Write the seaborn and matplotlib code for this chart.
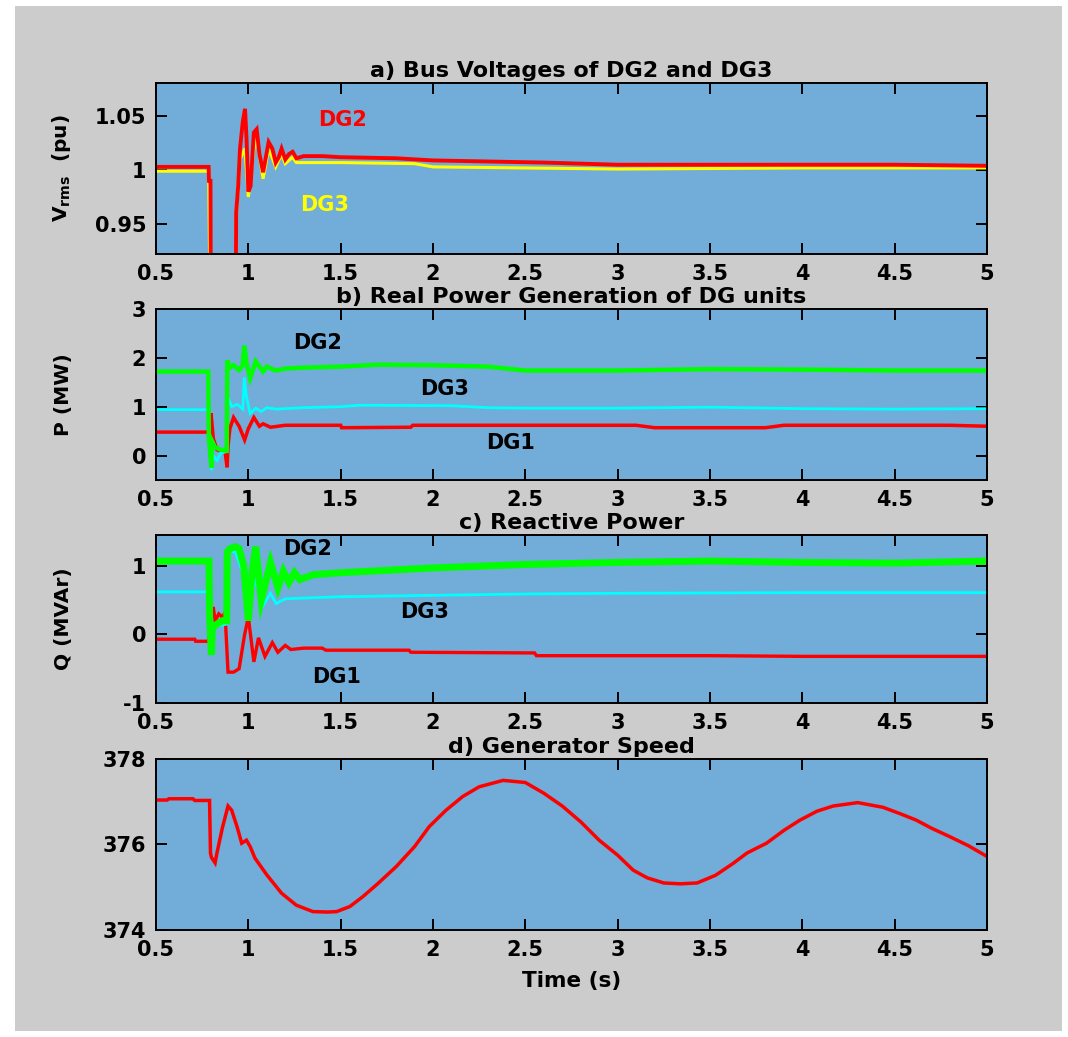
import matplotlib
matplotlib.use("Agg")
import matplotlib.pyplot as plt
from matplotlib.patches import Rectangle
import seaborn as sns
import pandas as pd

# ---------------- a) bus voltages (pu) ----------------
v_dg2_t = [0.5, 0.785, 0.787, 0.795, 0.798, 0.93, 0.934, 0.945, 0.955, 0.97, 0.982, 0.99, 1.0,
           1.012, 1.03, 1.045, 1.06, 1.08, 1.11, 1.13, 1.148, 1.165, 1.18, 1.2, 1.22, 1.24, 1.26,
           1.3, 1.4, 1.5, 1.8, 2.0, 2.3, 2.6, 3.0, 3.5, 4.0, 4.5, 5.0]
v_dg2 = [1.003, 1.003, 0.99, 0.99, 0.80, 0.80, 0.96, 0.985, 1.02, 1.045, 1.057, 1.03, 0.98,
         0.985, 1.035, 1.038, 1.015, 0.998, 1.026, 1.02, 1.007, 1.012, 1.02, 1.01, 1.015, 1.017, 1.011,
         1.013, 1.013, 1.012, 1.011, 1.009, 1.008, 1.007, 1.005, 1.005, 1.005, 1.005, 1.004]

v_dg3_t = [0.5, 0.785, 0.798, 0.93, 0.934, 0.955, 0.982, 1.0, 1.03, 1.045, 1.08, 1.11, 1.148,
           1.18, 1.2, 1.24, 1.26, 1.5, 1.9, 2.0, 2.5, 3.0, 4.0, 4.8, 5.0]
v_dg3 = [0.999, 0.999, 0.80, 0.80, 0.955, 1.01, 1.02, 0.975, 1.02, 1.03, 0.992, 1.02, 1.003,
         1.015, 1.006, 1.012, 1.007, 1.007, 1.006, 1.003, 1.002, 1.001, 1.002, 1.002, 1.002]

# ---------------- b) real power (MW) ----------------
p_dg2_t = [0.5, 0.783, 0.786, 0.80, 0.803, 0.82, 0.85, 0.883, 0.886, 0.9, 0.92, 0.95, 0.97, 0.978,
           0.99, 1.01, 1.04, 1.08, 1.1, 1.15, 1.2, 1.3, 1.5, 1.7, 2.0, 2.3, 2.5, 3.0, 3.5, 4.0, 4.5, 5.0]
p_dg2 = [1.72, 1.72, 0.4, -0.25, 0.3, 0.17, 0.12, 0.1, 1.95, 1.8, 1.85, 1.75, 1.85, 2.25,
         1.9, 1.58, 1.93, 1.72, 1.82, 1.74, 1.78, 1.8, 1.82, 1.86, 1.85, 1.82, 1.74, 1.74, 1.77, 1.76, 1.74, 1.74]

p_dg3_t = [0.5, 0.783, 0.79, 0.80, 0.81, 0.83, 0.85, 0.883, 0.888, 0.91, 0.94, 0.97, 0.978, 0.99,
           1.01, 1.04, 1.07, 1.1, 1.15, 1.3, 1.5, 1.6, 2.1, 2.3, 2.5, 3.0, 3.5, 4.0, 4.5, 5.0]
p_dg3 = [0.94, 0.94, 0.3, -0.3, 0.0, -0.1, 0.05, 0.08, 1.2, 1.0, 1.05, 0.95, 1.6, 1.2,
         0.86, 0.97, 0.9, 0.98, 0.95, 0.98, 1.0, 1.03, 1.02, 0.98, 0.97, 0.97, 0.99, 0.96, 0.95, 0.96]

p_dg1_t = [0.5, 0.795, 0.798, 0.81, 0.83, 0.86, 0.875, 0.885, 0.89, 0.9, 0.92, 0.95, 0.98, 1.0,
           1.03, 1.06, 1.08, 1.12, 1.2, 1.5, 1.505, 1.88, 1.89, 2.5, 3.1, 3.2, 3.8, 3.9, 4.8, 5.0]
p_dg1 = [0.48, 0.48, 0.87, 0.35, 0.12, 0.08, 0.05, -0.24, 0.2, 0.55, 0.78, 0.6, 0.32, 0.55,
         0.78, 0.6, 0.65, 0.58, 0.62, 0.62, 0.57, 0.58, 0.62, 0.62, 0.62, 0.57, 0.57, 0.62, 0.62, 0.6]

# ---------------- c) reactive power (MVAr) ----------------
q_dg2_t = [0.5, 0.787, 0.79, 0.80, 0.805, 0.83, 0.86, 0.883, 0.886, 0.9, 0.93, 0.95, 0.975, 1.0,
           1.02, 1.04, 1.07, 1.12, 1.16, 1.19, 1.22, 1.25, 1.28, 1.35, 1.5, 2.0, 2.5, 3.0, 3.5,
           4.0, 4.5, 5.0]
q_dg2 = [1.07, 1.07, 0.3, -0.3, 0.1, 0.15, 0.2, 0.2, 1.2, 1.25, 1.28, 1.25, 1.0, 0.2,
         0.9, 1.28, 0.5, 1.05, 0.68, 0.92, 0.76, 0.9, 0.8, 0.87, 0.9, 0.97, 1.02, 1.05, 1.07,
         1.05, 1.04, 1.07]

q_dg3_t = [0.5, 0.787, 0.79, 0.80, 0.83, 0.883, 0.886, 0.93, 0.97, 1.0, 1.04, 1.08, 1.12, 1.15,
           1.2, 1.5, 2.0, 2.5, 3.0, 4.0, 5.0]
q_dg3 = [0.62, 0.62, 0.3, 0.1, 0.12, 0.15, 1.22, 1.2, 0.9, 0.45, 0.8, 0.42, 0.6, 0.45,
         0.52, 0.55, 0.57, 0.59, 0.6, 0.61, 0.61]

q_dg1_t = [0.5, 0.71, 0.715, 0.787, 0.79, 0.80, 0.81, 0.82, 0.84, 0.86, 0.87, 0.875, 0.89, 0.92,
           0.95, 0.98, 1.0, 1.03, 1.055, 1.09, 1.13, 1.16, 1.2, 1.23, 1.3, 1.4, 1.42, 1.87, 1.88,
           2.55, 2.56, 3.5, 4.0, 5.0]
q_dg1 = [-0.07, -0.07, -0.1, -0.1, 0.65, 0.3, 0.4, 0.2, 0.3, 0.25, 0.3, 0.25, -0.55, -0.55,
         -0.5, 0.0, 0.25, -0.4, -0.05, -0.32, -0.12, -0.26, -0.16, -0.22, -0.2, -0.2, -0.23, -0.23, -0.26,
         -0.27, -0.31, -0.31, -0.32, -0.32]

# ---------------- d) generator speed (rad/s) ----------------
w_t = [0.5, 0.56, 0.57, 0.7, 0.71, 0.79, 0.795, 0.80, 0.82, 0.83, 0.86, 0.89, 0.91, 0.94, 0.964,
       0.99, 1.01, 1.036, 1.1, 1.18, 1.26, 1.35, 1.43, 1.478, 1.55, 1.62, 1.7, 1.8, 1.9, 1.98,
       2.07, 2.16, 2.25, 2.38, 2.5, 2.6, 2.7, 2.8, 2.9, 3.0, 3.084, 3.16, 3.25, 3.34, 3.43, 3.53,
       3.626, 3.7, 3.806, 3.9, 3.987, 4.08, 4.167, 4.3, 4.437, 4.53, 4.617, 4.7, 4.8, 4.9, 5.0]
w = [377.04, 377.04, 377.07, 377.07, 377.03, 377.03, 375.8, 375.7, 375.57, 375.8, 376.4, 376.9,
     376.8, 376.4, 376.03, 376.1, 375.95, 375.68, 375.29, 374.86, 374.58, 374.43, 374.42, 374.43,
     374.55, 374.78, 375.08, 375.48, 375.95, 376.42, 376.8, 377.12, 377.35, 377.5, 377.45, 377.2,
     376.9, 376.53, 376.1, 375.75, 375.4, 375.22, 375.1, 375.08, 375.1, 375.28, 375.56, 375.8,
     376.03, 376.33, 376.57, 376.78, 376.9, 376.98, 376.87, 376.72, 376.57, 376.38, 376.18,
     375.97, 375.72]

x_ticks = [0.5, 1, 1.5, 2, 2.5, 3, 3.5, 4, 4.5, 5]
x_tick_labels = ["0.5", "1", "1.5", "2", "2.5", "3", "3.5", "4", "4.5", "5"]

titles = ["a) Bus Voltages of DG2 and DG3", "b) Real Power Generation of DG units",
          "c) Reactive Power", "d) Generator Speed"]

sns.set_theme(style="ticks")
plt.rcParams["font.family"] = ["DejaVu Sans"]
plt.rcParams["font.weight"] = "bold"

BG = "#cccccc"
FACE = "#72acd8"
FS = 15

fig = plt.figure(figsize=(10.68, 10.37), dpi=100, facecolor="white")
fig.patches.append(Rectangle((15 / 1068, 1 - 1031 / 1037), 1047 / 1068, 1025 / 1037,
                             transform=fig.transFigure, facecolor=BG, edgecolor="none", zorder=-10))

W, H = 1068, 1037
left, right = 156, 987
tops = [83, 309, 535, 759]
bottoms = [254, 480, 703, 930]
axes = [fig.add_axes([left / W, 1 - b / H, (right - left) / W, (b - t) / H])
        for t, b in zip(tops, bottoms)]


def trace(ax, t, y, color, lw):
    df = pd.DataFrame({"t": t, "y": y})
    sns.lineplot(data=df, x="t", y="y", ax=ax, color=color, linewidth=lw,
                 estimator=None, sort=False, solid_joinstyle="miter")


ax1, ax2, ax3, ax4 = axes
trace(ax1, v_dg3_t, v_dg3, "#ffff00", 2.2)
trace(ax1, v_dg2_t, v_dg2, "#ff0000", 2.8)

trace(ax2, p_dg1_t, p_dg1, "#ff0000", 2.5)
trace(ax2, p_dg3_t, p_dg3, "#00ffff", 2.0)
trace(ax2, p_dg2_t, p_dg2, "#00ff00", 3.2)

trace(ax3, q_dg1_t, q_dg1, "#ff0000", 2.4)
trace(ax3, q_dg3_t, q_dg3, "#00ffff", 2.0)
trace(ax3, q_dg2_t, q_dg2, "#00ff00", 5.0)

trace(ax4, w_t, w, "#ff0000", 2.5)

ylims = [(0.922, 1.081), (-0.5, 3.0), (-1.0, 1.45), (374, 378)]
yticks = [([0.95, 1.0, 1.05], ["0.95", "1", "1.05"]),
          ([0, 1, 2, 3], ["0", "1", "2", "3"]),
          ([-1, 0, 1], ["-1", "0", "1"]),
          ([374, 376, 378], ["374", "376", "378"])]
ylabels = ["V$_{\\mathbf{rms}}$  (pu)", "P (MW)", "Q (MVAr)", ""]

for ax, title, yl, (yt, ytl), ylab in zip(axes, titles, ylims, yticks, ylabels):
    ax.set_facecolor(FACE)
    ax.set_xlim(0.5, 5)
    ax.set_ylim(*yl)
    ax.set_xticks(x_ticks)
    ax.set_xticklabels(x_tick_labels, fontsize=FS, fontweight="bold")
    ax.set_yticks(yt)
    ax.set_yticklabels(ytl, fontsize=FS, fontweight="bold")
    ax.tick_params(direction="in", length=8, width=1.4, color="black",
                   top=True, right=True, pad=7, labelcolor="black")
    for s in ax.spines.values():
        s.set_color("black")
        s.set_linewidth(1.4)
        s.set_visible(True)
    ax.set_title(title, fontsize=16, fontweight="bold", pad=4, color="black")
    ax.set_xlabel("")
    ax.set_ylabel(ylab, fontsize=FS - 0.5, fontweight="bold", color="black")
    ax.yaxis.set_label_coords(-0.1, 0.5)

ax4.set_xlabel("Time (s)", fontsize=FS + 0.5, fontweight="bold", color="black", labelpad=8)

# curve labels
ax1.text(1.377, 1.047, "DG2", color="#ff0000", fontsize=FS, fontweight="bold", va="center")
ax1.text(1.28, 0.968, "DG3", color="#ffff00", fontsize=FS, fontweight="bold", va="center")
ax2.text(1.24, 2.3, "DG2", color="black", fontsize=FS, fontweight="bold", va="center")
ax2.text(1.93, 1.36, "DG3", color="black", fontsize=FS, fontweight="bold", va="center")
ax2.text(2.29, 0.25, "DG1", color="black", fontsize=FS, fontweight="bold", va="center")
ax3.text(1.19, 1.24, "DG2", color="black", fontsize=FS, fontweight="bold", va="center")
ax3.text(1.82, 0.33, "DG3", color="black", fontsize=FS, fontweight="bold", va="center")
ax3.text(1.345, -0.62, "DG1", color="black", fontsize=FS, fontweight="bold", va="center")

fig.savefig("out.png", dpi=100, facecolor=fig.get_facecolor())
